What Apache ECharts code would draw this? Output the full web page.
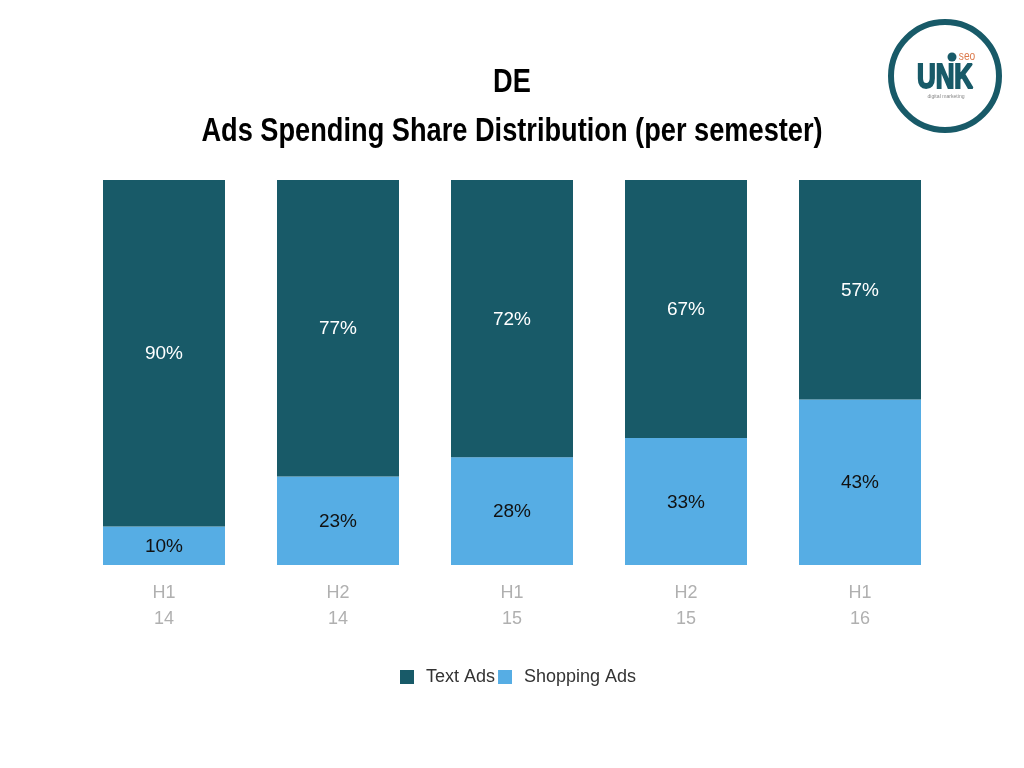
<!DOCTYPE html>
<html style="height: 100%">
<head>
    <meta charset="utf-8">
</head>
<body style="height: 100%; margin: 0; background: #fff">
    <div id="container" style="height: 100%"></div>
    <script type="text/javascript" src="https://cdn.jsdelivr.net/npm/echarts@6/dist/echarts.min.js"></script>
    <script type="text/javascript">
var categories = ['H1\n14', 'H2\n14', 'H1\n15', 'H2\n15', 'H1\n16'];
var textAds = [90, 77, 72, 67, 57];
var shoppingAds = [10, 23, 28, 33, 43];
var titleLines = ['DE', 'Ads Spending Share Distribution (per semester)'];

var font = '"Liberation Sans", sans-serif';
var teal = '#185a68';
var blue = '#56ade4';

var myChart = echarts.init(document.getElementById('container'));

var percent = function (p) {
    return p.value + '%';
};

// no narrow font installed, so the title and logo text are squeezed with scaleX
var squeezed = function (text, x, y, scaleX, size, weight, color) {
    return {
        type: 'text',
        x: x,
        y: y,
        scaleX: scaleX,
        style: {
            text: text,
            align: 'center',
            verticalAlign: 'middle',
            fontFamily: font,
            fontSize: size,
            fontWeight: weight,
            fill: color
        }
    };
};

var logoWord = squeezed('UNK', 945, 78, 0.74, 35, 'bold', teal);
logoWord.style.stroke = teal;
logoWord.style.lineWidth = 2;

var option = {
    backgroundColor: '#fff',
    animation: false,
    legend: {
        data: ['Text Ads', 'Shopping Ads'],
        left: 395,
        top: 663,
        itemWidth: 14,
        itemHeight: 14,
        itemGap: 3,
        icon: 'rect',
        textStyle: {
            fontFamily: font,
            fontSize: 18,
            color: '#333',
            padding: [0, 0, 0, 7]
        }
    },
    grid: {
        left: 77,
        right: 77,
        top: 180,
        height: 385
    },
    xAxis: {
        type: 'category',
        data: categories,
        axisLine: { show: false },
        axisTick: { show: false },
        axisLabel: {
            fontFamily: font,
            fontSize: 18,
            color: '#b0b0b0',
            lineHeight: 26,
            margin: 15
        }
    },
    yAxis: {
        type: 'value',
        min: 0,
        max: 100,
        show: false
    },
    series: [
        {
            name: 'Shopping Ads',
            type: 'bar',
            stack: 'share',
            barWidth: 122,
            data: shoppingAds,
            itemStyle: { color: blue },
            label: {
                show: true,
                position: 'inside',
                offset: [0, 1],
                formatter: percent,
                fontFamily: font,
                fontSize: 19,
                color: '#111'
            }
        },
        {
            name: 'Text Ads',
            type: 'bar',
            stack: 'share',
            barWidth: 122,
            data: textAds,
            itemStyle: { color: teal },
            label: {
                show: true,
                position: 'inside',
                offset: [0, 1],
                formatter: percent,
                fontFamily: font,
                fontSize: 19,
                color: '#fff'
            }
        }
    ],
    graphic: [
        squeezed(titleLines[0], 512, 83, 0.8, 34, 'bold', '#000'),
        squeezed(titleLines[1], 512, 132, 0.8, 34, 'bold', '#000'),
        {
            type: 'circle',
            shape: { cx: 945, cy: 76, r: 54 },
            style: { fill: '#fff', stroke: teal, lineWidth: 6 }
        },
        logoWord,
        {
            type: 'circle',
            shape: { cx: 952, cy: 57, r: 4.5 },
            style: { fill: teal }
        },
        squeezed('seo', 967, 57, 0.85, 12, 'normal', '#dc7a4c'),
        squeezed('digital marketing', 946, 96, 0.85, 6, 'normal', '#888')
    ]
};
myChart.setOption(option, true);
    </script>
</body>
</html>
